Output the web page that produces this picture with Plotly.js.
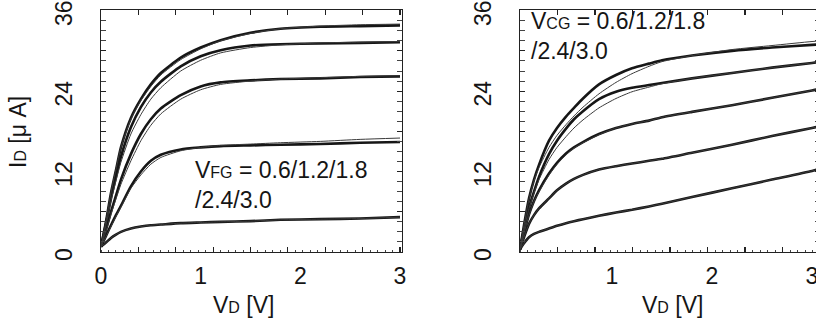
<!DOCTYPE html>
<html>
<head>
<meta charset="utf-8">
<script src="https://cdn.plot.ly/plotly-3.0.1.min.js"></script>
<style>
html,body{margin:0;padding:0;background:#fff;overflow:hidden;width:816px;height:324px;}
#chart{width:830px;height:324px;}
</style>
</head>
<body>
<div id="chart"></div>
<script>
// ---------------- DATA ----------------
// Left panel: I_D vs V_D for V_FG = 3.0 / 2.4 / 1.8 / 1.2 / 0.6 V
const vdLeft = [0, 0.05, 0.1, 0.15, 0.2, 0.3, 0.4, 0.5, 0.6, 0.8, 1.0, 1.2, 1.5, 1.8, 2.2, 2.6, 3.0];
const fg30Meas = [0.8, 4.5, 8.8, 12.2, 15.6, 20.0, 22.8, 25.0, 26.7, 29.0, 30.5, 31.6, 32.7, 33.3, 33.6, 33.7, 33.8];
const fg24Meas = [0.8, 4.2, 8.0, 11.2, 14.2, 18.6, 21.6, 23.8, 25.4, 27.7, 29.2, 30.1, 30.8, 31.0, 31.1, 31.2, 31.3];
const fg18Meas = [0.8, 3.3, 6.0, 8.4, 10.8, 14.6, 17.6, 19.8, 21.4, 23.4, 24.7, 25.3, 25.6, 25.8, 25.9, 26.1, 26.2];
const fg12Meas = [0.8, 2.4, 4.0, 5.5, 6.9, 9.8, 12.0, 13.6, 14.5, 15.3, 15.6, 15.8, 15.9, 16.0, 16.1, 16.3, 16.4];
const fg06Meas = [0.8, 1.4, 2.1, 2.6, 3.0, 3.5, 3.8, 4.0, 4.1, 4.3, 4.4, 4.5, 4.6, 4.8, 4.9, 5.0, 5.2];
const fg30Sim  = [0.8, 4.6, 8.9, 12.3, 15.6, 19.8, 22.6, 24.7, 26.4, 28.7, 30.3, 31.5, 32.6, 33.3, 33.7, 33.9, 34.0];
const fg24Sim  = [0.8, 4.0, 7.6, 10.6, 13.4, 17.6, 20.5, 22.8, 24.5, 27.0, 28.6, 29.7, 30.5, 30.9, 31.2, 31.3, 31.4];
const fg18Sim  = [0.8, 3.1, 5.6, 7.9, 10.1, 13.6, 16.6, 18.9, 20.6, 22.8, 24.2, 25.0, 25.5, 25.8, 26.0, 26.2, 26.3];
const fg12Sim  = [0.8, 2.3, 3.8, 5.3, 6.7, 9.5, 11.5, 13.1, 14.1, 15.1, 15.6, 15.9, 16.1, 16.3, 16.5, 16.8, 17.0];
const fg06Sim  = [0.8, 1.4, 2.1, 2.6, 3.0, 3.5, 3.8, 4.0, 4.1, 4.3, 4.4, 4.5, 4.6, 4.8, 4.9, 5.0, 5.2];

// Right panel: I_D vs V_D for V_CG = 3.0 / 2.4 / 1.8 / 1.2 / 0.6 V
const vdRight = [0.08, 0.12, 0.17, 0.22, 0.27, 0.37, 0.45, 0.54, 0.62, 0.71, 0.87, 1.04, 1.2, 1.37, 1.5, 1.8, 2.2, 2.6, 3.0, 3.1];
const cg30Meas = [0.4, 4.0, 8.0, 10.8, 13.0, 16.6, 18.5, 20.2, 21.5, 22.9, 25.0, 26.4, 27.4, 28.1, 28.6, 29.3, 30.0, 30.5, 30.9, 31.0];
const cg24Meas = [0.4, 3.3, 6.6, 9.0, 11.2, 14.6, 16.6, 18.4, 19.8, 21.0, 22.8, 23.9, 24.5, 24.9, 25.2, 25.9, 26.7, 27.5, 28.2, 28.4];
const cg18Meas = [0.4, 2.8, 5.6, 7.6, 9.2, 11.7, 13.3, 14.7, 15.6, 16.4, 17.6, 18.5, 19.1, 19.6, 20.1, 20.9, 21.9, 23.0, 24.1, 24.4];
const cg12Meas = [0.4, 2.2, 4.2, 5.5, 6.5, 8.0, 9.2, 10.2, 10.9, 11.5, 12.3, 12.8, 13.2, 13.6, 13.9, 14.8, 16.0, 17.3, 18.5, 18.8];
const cg06Meas = [0.4, 1.3, 2.2, 2.7, 3.0, 3.5, 3.9, 4.3, 4.6, 4.9, 5.4, 5.9, 6.3, 6.8, 7.2, 8.2, 9.5, 10.8, 12.1, 12.5];
const cg30Sim  = [0.4, 4.0, 7.9, 10.6, 12.6, 15.6, 17.4, 19.0, 20.3, 21.6, 23.6, 25.3, 26.6, 27.7, 28.4, 29.3, 30.2, 30.8, 31.4, 31.5];
const cg24Sim  = [0.4, 3.3, 6.5, 8.8, 10.8, 13.8, 15.6, 17.2, 18.5, 19.7, 21.5, 22.9, 23.9, 24.6, 25.1, 25.9, 26.7, 27.5, 28.2, 28.4];
const cg18Sim  = [0.4, 2.8, 5.5, 7.5, 9.0, 11.5, 13.1, 14.5, 15.5, 16.3, 17.5, 18.5, 19.1, 19.6, 20.1, 20.9, 21.9, 23.0, 24.1, 24.4];
const cg12Sim  = [0.4, 2.2, 4.2, 5.5, 6.5, 8.0, 9.2, 10.2, 10.9, 11.5, 12.3, 12.8, 13.2, 13.6, 13.9, 14.8, 16.0, 17.3, 18.5, 18.8];
const cg06Sim  = [0.4, 1.3, 2.2, 2.7, 3.0, 3.5, 3.9, 4.3, 4.6, 4.9, 5.4, 5.9, 6.3, 6.8, 7.2, 8.2, 9.5, 10.8, 12.1, 12.5];

// Tick labels
const xTickVals = [0, 1, 2, 3];
const xTickText = ['0', '1', '2', '3'];
const xTickTextRight = ['', '1', '2', '3'];
const yTickVals = [0, 6, 12, 18, 24, 30, 36];
const yTickText = ['0', '', '12', '', '24', '', '36'];

// Texts (subscripts drawn as smaller letters on the baseline, as in the figure)
const SUB = s => "<span style='font-size:16px'>" + s + "</span>";
const yTitle = 'I' + SUB('D') + ' [μ A]';
const xTitle = 'V' + SUB('D') + ' [V]';
const fgLabel = 'V' + SUB('FG') + ' = 0.6/1.2/1.8<br>/2.4/3.0';
const cgLabel = 'V' + SUB('CG') + ' = 0.6/1.2/1.8<br>/2.4/3.0';

// ---------------- LAYOUT ----------------
const W = 830, H = 324;
const px = v => v / W;
const py = v => 1 - v / H;
const FONT = 'Liberation Sans, Arial, Helvetica, sans-serif';
const INK = '#151515';

const measLine = {color: '#161616', width: 2.6, shape: 'spline', smoothing: 0.6};
const simLine = {color: '#3a3a3a', width: 1.0, shape: 'spline', smoothing: 0.6};

function meas(x, y, xa, ya) { return {x, y, xaxis: xa, yaxis: ya, mode: 'lines', line: measLine, hoverinfo: 'skip', showlegend: false}; }
function sim(x, y, xa, ya) { return {x, y, xaxis: xa, yaxis: ya, mode: 'lines', line: simLine, hoverinfo: 'skip', showlegend: false}; }

const data = [
  meas(vdLeft, fg30Meas, 'x', 'y'), meas(vdLeft, fg24Meas, 'x', 'y'), meas(vdLeft, fg18Meas, 'x', 'y'),
  meas(vdLeft, fg12Meas, 'x', 'y'), meas(vdLeft, fg06Meas, 'x', 'y'),
  sim(vdLeft, fg30Sim, 'x3', 'y'), sim(vdLeft, fg24Sim, 'x3', 'y'), sim(vdLeft, fg18Sim, 'x3', 'y'),
  sim(vdLeft, fg12Sim, 'x3', 'y'), sim(vdLeft, fg06Sim, 'x3', 'y'),
  meas(vdRight, cg30Meas, 'x2', 'y2'), meas(vdRight, cg24Meas, 'x2', 'y2'), meas(vdRight, cg18Meas, 'x2', 'y2'),
  meas(vdRight, cg12Meas, 'x2', 'y2'), meas(vdRight, cg06Meas, 'x2', 'y2'),
  sim(vdRight, cg30Sim, 'x4', 'y2'), sim(vdRight, cg24Sim, 'x4', 'y2'), sim(vdRight, cg18Sim, 'x4', 'y2'),
  sim(vdRight, cg12Sim, 'x4', 'y2'), sim(vdRight, cg06Sim, 'x4', 'y2')
];

const tickFont = {family: FONT, size: 23, color: INK};
const yDomain = [py(252), py(10)];
const leftDom = [px(101), px(402)];
const rightDom = [px(520), px(820)];

function xMain(dom, range, ticktext, anchor) {
  return {
    domain: dom, range: range, anchor: anchor,
    showline: true, linecolor: '#222', linewidth: 1.3, mirror: true,
    showgrid: false, zeroline: false,
    tickmode: 'array', tickvals: xTickVals, ticktext: ticktext, ticks: '',
    tickfont: tickFont, ticklabelstandoff: 3, ticklabeloverflow: 'allow',
    minor: {tickmode: 'linear', tick0: range[0], dtick: 0.075, ticks: 'inside', ticklen: 2, tickwidth: 1, tickcolor: '#444', showgrid: false}
  };
}
function xTicks(dom, range, anchor, over) {
  return {
    domain: dom, range: range, anchor: anchor, overlaying: over, matches: over,
    showline: false, showgrid: false, zeroline: false, showticklabels: false,
    tickmode: 'linear', tick0: range[0], dtick: 0.375, ticks: 'inside', ticklen: 5, tickwidth: 1.1, tickcolor: '#222',
    mirror: 'allticks'
  };
}
function yAxis(anchor) {
  return {
    domain: yDomain, range: [0, 36.1], anchor: anchor,
    showline: true, linecolor: '#222', linewidth: 1.3, mirror: 'allticks',
    showgrid: false, zeroline: false,
    tickmode: 'array', tickvals: yTickVals, ticktext: yTickText,
    ticks: 'inside', ticklen: 5, tickwidth: 1.1, tickcolor: '#222',
    tickangle: -90, tickfont: tickFont, ticklabelstandoff: 19, ticklabelshift: 6,
    ticklabeloverflow: 'allow',
    minor: {tickmode: 'linear', tick0: 0, dtick: 1.5, ticks: 'inside', ticklen: 2, tickwidth: 1, tickcolor: '#444', showgrid: false}
  };
}

const annFont = {family: FONT, size: 23, color: INK};
const layout = {
  width: W, height: H,
  margin: {l: 0, r: 0, t: 0, b: 0, pad: 0},
  paper_bgcolor: '#fff', plot_bgcolor: '#fff',
  showlegend: false,
  xaxis: xMain(leftDom, [0, 3.02], xTickText, 'y'),
  xaxis2: xMain(rightDom, [0.08, 3.08], xTickTextRight, 'y2'),
  xaxis3: xTicks(leftDom, [0, 3.02], 'y', 'x'),
  xaxis4: xTicks(rightDom, [0.08, 3.08], 'y2', 'x2'),
  yaxis: yAxis('x'),
  yaxis2: yAxis('x2'),
  annotations: [
    {xref: 'paper', yref: 'paper', x: px(18), y: py(132), text: yTitle, textangle: -90, showarrow: false, font: annFont, xanchor: 'center', yanchor: 'middle'},
    {xref: 'paper', yref: 'paper', x: px(243), y: py(305), text: xTitle, showarrow: false, font: annFont, xanchor: 'center', yanchor: 'middle'},
    {xref: 'paper', yref: 'paper', x: px(672), y: py(305), text: xTitle, showarrow: false, font: annFont, xanchor: 'center', yanchor: 'middle'},
    {xref: 'paper', yref: 'paper', x: px(193), y: py(155), text: fgLabel, showarrow: false, font: annFont, xanchor: 'left', yanchor: 'top', align: 'left'},
    {xref: 'paper', yref: 'paper', x: px(529), y: py(6), text: cgLabel, showarrow: false, font: annFont, xanchor: 'left', yanchor: 'top', align: 'left'}
  ]
};

Plotly.newPlot('chart', data, layout, {staticPlot: true, displayModeBar: false});
</script>
</body>
</html>
